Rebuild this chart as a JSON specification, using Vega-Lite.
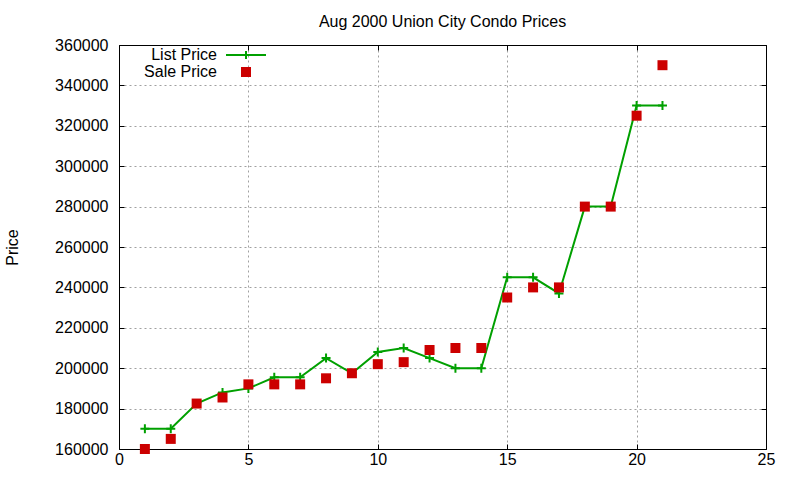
{
  "$schema": "https://vega.github.io/schema/vega-lite/v6.json",
  "description": "Union City condo list and sale prices, August 2000.",
  "width": 647,
  "height": 404,
  "autosize": "none",
  "padding": {"left": 119, "top": 45, "right": 34, "bottom": 31},
  "background": "white",
  "title": {
    "text": "Aug 2000 Union City Condo Prices",
    "font": "Liberation Sans",
    "fontSize": 16,
    "fontWeight": "normal",
    "color": "black",
    "anchor": "middle",
    "offset": 7
  },
  "config": {
    "view": {"stroke": null},
    "axis": {
      "font": "Liberation Sans",
      "labelFont": "Liberation Sans",
      "labelFontSize": 16,
      "labelColor": "black",
      "titleFont": "Liberation Sans",
      "titleFontSize": 16,
      "titleFontWeight": "normal",
      "titleColor": "black",
      "tickColor": "black",
      "tickSize": -5,
      "domainColor": "black",
      "domainWidth": 1,
      "gridColor": "#a0a0a0",
      "gridDash": [2, 3],
      "gridWidth": 1,
      "labelFlush": false,
      "labelOverlap": false
    },
    "legend": {
      "orient": "none",
      "legendX": 87,
      "legendY": 2,
      "padding": 0,
      "rowPadding": 1,
      "labelFont": "Liberation Sans",
      "labelFontSize": 16,
      "labelColor": "black",
      "symbolSize": 100
    }
  },
  "datasets": {
    "prices": [
      {"lot": 1, "series": "List Price", "price": 170000},
      {"lot": 2, "series": "List Price", "price": 170000},
      {"lot": 3, "series": "List Price", "price": 182500},
      {"lot": 4, "series": "List Price", "price": 188000},
      {"lot": 5, "series": "List Price", "price": 190000},
      {"lot": 6, "series": "List Price", "price": 195500},
      {"lot": 7, "series": "List Price", "price": 195500},
      {"lot": 8, "series": "List Price", "price": 205000},
      {"lot": 9, "series": "List Price", "price": 197500},
      {"lot": 10, "series": "List Price", "price": 208000},
      {"lot": 11, "series": "List Price", "price": 210000},
      {"lot": 12, "series": "List Price", "price": 205000},
      {"lot": 13, "series": "List Price", "price": 200000},
      {"lot": 14, "series": "List Price", "price": 200000},
      {"lot": 15, "series": "List Price", "price": 245000},
      {"lot": 16, "series": "List Price", "price": 245000},
      {"lot": 17, "series": "List Price", "price": 237000},
      {"lot": 18, "series": "List Price", "price": 280000},
      {"lot": 19, "series": "List Price", "price": 280000},
      {"lot": 20, "series": "List Price", "price": 330000},
      {"lot": 21, "series": "List Price", "price": 330000},
      {"lot": 1, "series": "Sale Price", "price": 160000},
      {"lot": 2, "series": "Sale Price", "price": 165000},
      {"lot": 3, "series": "Sale Price", "price": 182500},
      {"lot": 4, "series": "Sale Price", "price": 185500},
      {"lot": 5, "series": "Sale Price", "price": 192000},
      {"lot": 6, "series": "Sale Price", "price": 192000},
      {"lot": 7, "series": "Sale Price", "price": 192000},
      {"lot": 8, "series": "Sale Price", "price": 195000},
      {"lot": 9, "series": "Sale Price", "price": 197500},
      {"lot": 10, "series": "Sale Price", "price": 202000},
      {"lot": 11, "series": "Sale Price", "price": 203000},
      {"lot": 12, "series": "Sale Price", "price": 209000},
      {"lot": 13, "series": "Sale Price", "price": 210000},
      {"lot": 14, "series": "Sale Price", "price": 210000},
      {"lot": 15, "series": "Sale Price", "price": 235000},
      {"lot": 16, "series": "Sale Price", "price": 240000},
      {"lot": 17, "series": "Sale Price", "price": 240000},
      {"lot": 18, "series": "Sale Price", "price": 280000},
      {"lot": 19, "series": "Sale Price", "price": 280000},
      {"lot": 20, "series": "Sale Price", "price": 325000},
      {"lot": 21, "series": "Sale Price", "price": 350000}
    ]
  },
  "data": {"name": "prices"},
  "resolve": {"axis": {"x": "independent", "y": "independent"}},
  "layer": [
    {
      "transform": [{"filter": "datum.series === 'List Price'"}],
      "mark": {"type": "line", "strokeWidth": 2},
      "encoding": {
        "x": {
          "field": "lot",
          "type": "quantitative",
          "scale": {"domain": [0, 25], "nice": false, "zero": false},
          "axis": {
            "orient": "bottom",
            "values": [0, 5, 10, 15, 20, 25],
            "grid": true,
            "domain": true,
            "labelPadding": 7,
            "title": null
          }
        },
        "y": {
          "field": "price",
          "type": "quantitative",
          "scale": {"domain": [160000, 360000], "nice": false, "zero": false},
          "axis": {
            "orient": "left",
            "values": [160000, 180000, 200000, 220000, 240000, 260000, 280000, 300000, 320000, 340000, 360000],
            "format": "d",
            "grid": true,
            "domain": true,
            "labelPadding": 16,
            "title": "Price",
            "titleX": -107,
            "titleY": 202,
            "titleAngle": -90,
            "titleAlign": "center",
            "titleBaseline": "middle"
          }
        },
        "color": {
          "field": "series",
          "type": "nominal",
          "scale": {"domain": ["List Price", "Sale Price"], "range": ["#00a000", "#cc0000"]},
          "legend": {
            "title": null,
            "encode": {
              "symbols": {
                "update": {
                  "x": {"value": 40},
                  "shape": {"signal": "datum.value === 'List Price' ? 'M-1,0H1M0,-0.2V0.2' : 'square'"},
                  "size": {"signal": "datum.value === 'List Price' ? 1600 : 64"},
                  "fill": {"signal": "datum.value === 'List Price' ? 'transparent' : '#cc0000'"},
                  "stroke": {"signal": "datum.value === 'List Price' ? '#00a000' : 'transparent'"},
                  "strokeWidth": {"value": 2},
                  "opacity": {"value": 1}
                }
              },
              "labels": {
                "update": {
                  "x": {"value": 11},
                  "align": {"value": "right"}
                }
              }
            }
          }
        }
      }
    },
    {
      "transform": [{"filter": "datum.series === 'List Price'"}],
      "mark": {
        "type": "point",
        "shape": "M-1,0H1M0,-1V1",
        "filled": false,
        "strokeWidth": 2,
        "size": 81,
        "opacity": 1
      },
      "encoding": {
        "x": {
          "field": "lot",
          "type": "quantitative",
          "axis": {"orient": "top", "values": [0, 5, 10, 15, 20, 25], "labels": false, "grid": false, "domain": true, "title": null}
        },
        "y": {
          "field": "price",
          "type": "quantitative",
          "axis": {
            "orient": "right",
            "values": [160000, 180000, 200000, 220000, 240000, 260000, 280000, 300000, 320000, 340000, 360000],
            "labels": false,
            "grid": false,
            "domain": true,
            "title": null
          }
        },
        "color": {"field": "series", "type": "nominal"}
      }
    },
    {
      "transform": [{"filter": "datum.series === 'Sale Price'"}],
      "mark": {"type": "square", "size": 100, "opacity": 1},
      "encoding": {
        "x": {"field": "lot", "type": "quantitative", "axis": null},
        "y": {"field": "price", "type": "quantitative", "axis": null},
        "color": {"field": "series", "type": "nominal"}
      }
    }
  ]
}
